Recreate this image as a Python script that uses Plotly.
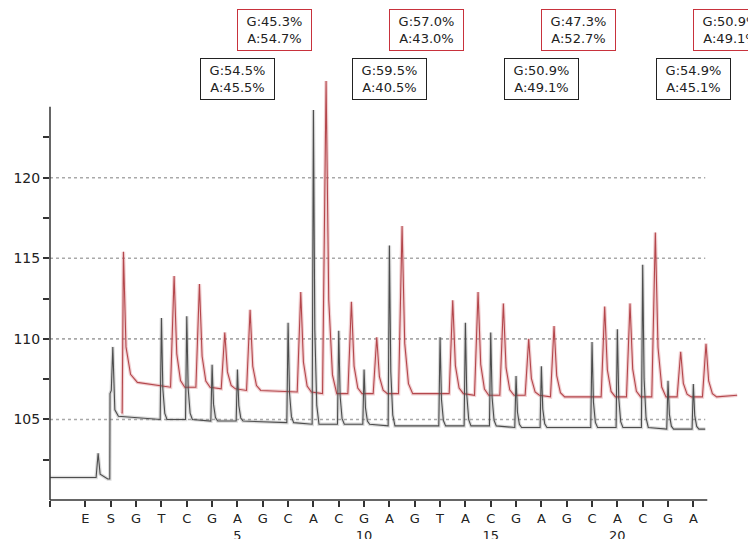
import plotly.graph_objects as go

# ---------------- data ----------------
dispensation = ["E", "S", "G", "T", "C", "G", "A", "G", "C", "A", "C", "G", "A",
                "G", "T", "A", "C", "G", "A", "G", "C", "A", "C", "G", "A"]
disp_pos = list(range(-1, 24))          # E=-1, S=0, G=1 ... A=23
pos_numbers = {5: "5", 10: "10", 15: "15", 20: "20"}

# peak heights for dispensations G(1) .. A(23); None = no incorporation
black_peaks = [None, 111.3, 111.4, 108.4, 108.1, None, 111.0, 124.2, 110.5, 108.1,
               115.8, None, 110.1, 111.0, 110.4, 107.7, 108.3, None, 109.8, 110.6,
               114.6, 107.4, 107.2]
black_base = [105.1, 105.0, 105.0, 104.9, 104.9, 104.8, 104.8, 104.7, 104.7, 104.7,
              104.6, 104.6, 104.6, 104.6, 104.6, 104.5, 104.5, 104.5, 104.5, 104.5,
              104.5, 104.4, 104.4]
red_peaks = [None, 113.9, 113.4, 110.4, 111.8, None, 112.9, 126.0, 112.3, 110.1,
             117.0, None, 112.4, 112.9, 112.2, 110.0, 110.8, None, 112.0, 112.2,
             116.6, 109.2, 109.7]
red_base = [107.3, 107.0, 107.0, 106.9, 106.8, 106.8, 106.7, 106.6, 106.6, 106.6,
            106.6, 106.6, 106.6, 106.5, 106.5, 106.5, 106.4, 106.4, 106.4, 106.4,
            106.4, 106.4, 106.4]

# start of each run (enzyme/substrate region)
black_start_x = [-2.40, -0.58, -0.50, -0.42, -0.12, -0.04, -0.03, 0.02, 0.08, 0.16, 0.30]
black_start_y = [101.4, 101.4, 102.9, 101.6, 101.3, 101.3, 106.6, 106.8, 109.5, 105.6, 105.2]
black_end_x, black_end_y = 23.47, 104.4
red_shift = 0.5
red_start_x = [0.42, 0.45, 0.50, 0.60, 0.78, 1.05]
red_start_y = [105.4, 105.4, 115.4, 109.5, 107.8, 107.3]
red_end_x, red_end_y = 24.73, 106.5

# allele quantification at variable positions
var_pos = [5, 11, 17, 23]
black_G = [54.5, 59.5, 50.9, 54.9]
black_A = [45.5, 40.5, 49.1, 45.1]
red_G = [45.3, 57.0, 47.3, 50.9]
red_A = [54.7, 43.0, 52.7, 49.1]

y_ticks = [102.5, 105, 107.5, 110, 112.5, 115, 117.5, 120, 122.5]
y_tick_text = ["", "105", "", "110", "", "115", "", "120", ""]
grid_levels = [105, 110, 115, 120]

Y_MIN, Y_MAX = 100, 126.5


def build(start_x, start_y, peaks, bases, shift, rise, fall, end_x, end_y):
    xs, ys = list(start_x), list(start_y)
    for i, (p, b) in enumerate(zip(peaks, bases)):
        x0 = i + 1 + shift
        if p is None:
            continue
        xs += [x0 - rise, x0, x0 + fall * 0.25, x0 + fall * 0.6, x0 + fall]
        ys += [b, p, b + (p - b) * 0.3, b + (p - b) * 0.06, b]
    xs.append(end_x)
    ys.append(end_y)
    return xs, ys


bx, by = build(black_start_x, black_start_y, black_peaks, black_base, 0.0,
               0.05, 0.22, black_end_x, black_end_y)
rx, ry = build(red_start_x, red_start_y, red_peaks, red_base, red_shift,
               0.14, 0.42, red_end_x, red_end_y)

fig = go.Figure()
# soft halos (the original is slightly blurred)
fig.add_trace(go.Scatter(x=rx, y=ry, mode="lines",
                         line=dict(color="rgba(215,120,125,0.35)", width=3.5),
                         hoverinfo="skip", showlegend=False))
fig.add_trace(go.Scatter(x=bx, y=by, mode="lines",
                         line=dict(color="rgba(150,150,150,0.35)", width=3.5),
                         hoverinfo="skip", showlegend=False))
fig.add_trace(go.Scatter(x=rx, y=ry, mode="lines",
                         line=dict(color="#b4474c", width=1.1),
                         name="sample 2", showlegend=False))
fig.add_trace(go.Scatter(x=bx, y=by, mode="lines",
                         line=dict(color="#4d4d4d", width=1.1),
                         name="sample 1", showlegend=False))

shapes = []
for g in grid_levels:
    shapes.append(dict(type="line", xref="x", yref="y", x0=-2.4, x1=23.47, y0=g, y1=g,
                       line=dict(color="#a9a9a9", width=1.6, dash="dot"), layer="below"))
# axis lines
shapes.append(dict(type="line", xref="paper", yref="y", x0=0, x1=0, y0=100, y1=124.4,
                   line=dict(color="#333333", width=1.5)))
shapes.append(dict(type="line", xref="x", yref="paper", x0=-2.4, x1=23.55, y0=0, y1=0,
                   line=dict(color="#333333", width=1.5)))


def to_paper(v):
    return (v - Y_MIN) / (Y_MAX - Y_MIN)


annotations = []
for p, g, a in zip(var_pos, black_G, black_A):
    annotations.append(dict(x=p, y=to_paper(126.1), xref="x", yref="paper",
                            xanchor="center", yanchor="middle", showarrow=False,
                            text=f"G:{g:.1f}%<br>A:{a:.1f}%", align="center",
                            font=dict(family="DejaVu Sans", size=13, color="#222"),
                            bgcolor="white", bordercolor="#222", borderwidth=1,
                            borderpad=2, width=69, height=36))
for p, g, a in zip(var_pos, red_G, red_A):
    annotations.append(dict(x=p + 1.45, y=to_paper(129.15), xref="x", yref="paper",
                            xanchor="center", yanchor="middle", showarrow=False,
                            text=f"G:{g:.1f}%<br>A:{a:.1f}%", align="center",
                            font=dict(family="DejaVu Sans", size=13, color="#222"),
                            bgcolor="white", bordercolor="#c8323c", borderwidth=1,
                            borderpad=2, width=69, height=36))

tickvals = [-2.4] + disp_pos
ticktext = [""] + [d + ("<br>" + pos_numbers[p] if p in pos_numbers else "<br> ")
                   for d, p in zip(dispensation, disp_pos)]

# the page places the figure 8 px from the top-left corner
fig.update_layout(
    width=748, height=531,
    margin=dict(l=42, r=12, t=65, b=39),
    paper_bgcolor="white", plot_bgcolor="white",
    shapes=shapes, annotations=annotations,
    font=dict(family="DejaVu Sans", color="#222"),
    xaxis=dict(range=[-2.4, 25.0], tickvals=tickvals, ticktext=ticktext,
               showgrid=False, zeroline=False, showline=False, automargin=False,
               ticks="outside", ticklen=6, tickwidth=1.5, tickcolor="#333",
               tickfont=dict(size=13, color="#222")),
    yaxis=dict(range=[Y_MIN, Y_MAX], tickvals=y_ticks, ticktext=y_tick_text,
               showgrid=False, zeroline=False, showline=False, automargin=False,
               ticks="outside", ticklen=6, tickwidth=1.5, tickcolor="#333",
               tickfont=dict(size=14, color="#222")),
)

fig.write_html("out.html")
